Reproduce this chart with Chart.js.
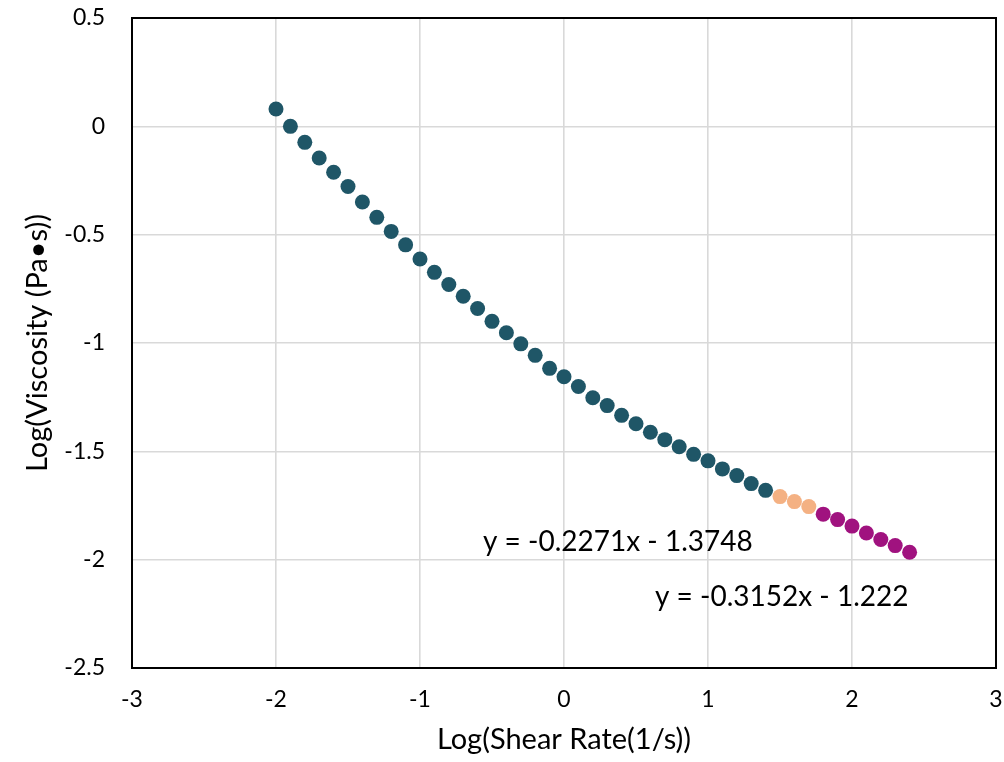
<!DOCTYPE html>
<html>
<head>
<meta charset="utf-8">
<script src="https://cdn.jsdelivr.net/npm/chart.js@4"></script>
<style>
  html, body { margin: 0; padding: 0; background: #fff; }
  #wrap { width: 1004px; height: 762px; }
</style>
</head>
<body>
<div id="wrap"><canvas id="myChart"></canvas></div>
<script>
// log shear rate (x) and log viscosity (y), split in the three colour groups
const xTeal = [-2.0, -1.9, -1.8, -1.7, -1.6, -1.5, -1.4, -1.3, -1.2, -1.1, -1.0, -0.9, -0.8, -0.7, -0.6,
  -0.5, -0.4, -0.3, -0.2, -0.1, 0.0, 0.1, 0.2, 0.3, 0.4, 0.5, 0.6, 0.7, 0.8, 0.9, 1.0, 1.1, 1.2, 1.3, 1.4];
const yTeal = [0.080, 0.000, -0.074, -0.146, -0.212, -0.278, -0.349, -0.420, -0.485, -0.547, -0.612, -0.674, -0.730, -0.784, -0.841,
  -0.900, -0.953, -1.004, -1.057, -1.117, -1.156, -1.201, -1.253, -1.289, -1.334, -1.373, -1.412, -1.446, -1.479, -1.514, -1.544, -1.581, -1.612, -1.649, -1.680];
const xOrange = [1.5, 1.6, 1.7];
const yOrange = [-1.709, -1.732, -1.755];
const xPurple = [1.8, 1.9, 2.0, 2.1, 2.2, 2.3, 2.4];
const yPurple = [-1.790, -1.815, -1.845, -1.877, -1.907, -1.935, -1.966];

const xTicks = [-3, 3, 1];      // min, max, step
const yTicks = [-2.5, 0.5, 0.5];

const equations = ['y = -0.2271x - 1.3748', 'y = -0.3152x - 1.222'];
const equationAnchors = [[-0.5625, -1.92], [0.632, -2.173]];

const FONT = 'Lato, "Open Sans", sans-serif';

function pts(xs, ys) {
  return xs.map((x, i) => ({x: x, y: ys[i]}));
}

const frameAndText = {
  id: 'frameAndText',
  afterDatasetsDraw(chart) {
    const ctx = chart.ctx;
    const a = chart.chartArea;
    const sx = chart.scales.x, sy = chart.scales.y;
    ctx.save();
    ctx.strokeStyle = '#000';
    ctx.lineWidth = 2;
    ctx.strokeRect(a.left, a.top, a.right - a.left, a.bottom - a.top);
    ctx.fillStyle = '#000';
    ctx.font = '28px ' + FONT;
    ctx.textAlign = 'left';
    ctx.textBaseline = 'middle';
    equations.forEach((t, i) => {
      ctx.fillText(t, sx.getPixelForValue(equationAnchors[i][0]), sy.getPixelForValue(equationAnchors[i][1]));
    });
    ctx.restore();
  }
};

const config = {
  type: 'scatter',
  data: {
    datasets: [
      { data: pts(xTeal, yTeal), backgroundColor: '#1F5667', borderWidth: 0, pointRadius: 7.5 },
      { data: pts(xOrange, yOrange), backgroundColor: '#F4B183', borderWidth: 0, pointRadius: 7.5 },
      { data: pts(xPurple, yPurple), backgroundColor: '#A0127F', borderWidth: 0, pointRadius: 7.5 }
    ]
  },
  options: {
    responsive: true,
    maintainAspectRatio: false,
    animation: false,
    layout: { padding: { top: 18, right: 8, left: 0, bottom: 0 } },
    plugins: {
      legend: { display: false },
      tooltip: { enabled: false }
    },
    scales: {
      x: {
        type: 'linear',
        min: xTicks[0], max: xTicks[1],
        ticks: { stepSize: xTicks[2], color: '#000', font: { family: FONT, size: 23 }, padding: 18 },
        grid: { color: '#D9D9D9', lineWidth: 1.6, drawTicks: false },
        border: { display: false },
        title: { display: true, text: 'Log(Shear Rate(1/s))', color: '#000', font: { family: FONT, size: 29 }, padding: { top: 0, bottom: 5 } },
        afterFit(scale) {
          scale.height = 94;
          scale.paddingLeft = 0;
          scale.paddingRight = 0;
        }
      },
      y: {
        type: 'linear',
        min: yTicks[0], max: yTicks[1],
        ticks: {
          stepSize: yTicks[2], color: '#000', font: { family: FONT, size: 23 }, padding: 27,
          callback: v => String(Math.round(v * 10) / 10)
        },
        grid: { color: '#D9D9D9', lineWidth: 1.6, drawTicks: false },
        border: { display: false },
        title: { display: true, text: 'Log(Viscosity (Pa•s))', color: '#000', font: { family: FONT, size: 29 }, padding: { top: 20, bottom: 0 } },
        afterFit(scale) {
          scale.width = 132;
          scale.paddingTop = 0;
          scale.paddingBottom = 0;
        }
      }
    }
  },
  plugins: [frameAndText]
};

const myChart = new Chart(document.getElementById('myChart'), config);
</script>
</body>
</html>
